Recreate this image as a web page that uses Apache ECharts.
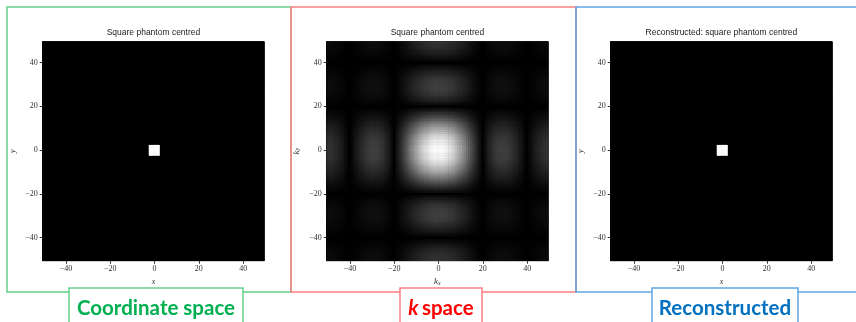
<!DOCTYPE html>
<html>
<head>
<meta charset="utf-8">
<script src="https://cdn.jsdelivr.net/npm/echarts@6/dist/echarts.min.js"></script>
<style>
  html, body { margin: 0; padding: 0; background: #fff; }
  #chart { width: 856px; height: 322px; }
</style>
</head>
<body>
<div id="chart"></div>
<script>
// pixel grid of every image: -50 .. 49 on both axes
const COORDS = Array.from({ length: 100 }, (_, i) => String(i - 50));
const TICKS = [-40, -20, 0, 20, 40];

// white square of the phantom (cell indices on x and y)
const SQUARE_X = [-2, -1, 0, 1, 2];
const SQUARE_Y = [-2, -1, 0, 1, 2];

// k-space brightness read along the centre row / column, k = -50 .. 49
const K_PROFILE = [
  0.20, 0.20, 0.19, 0.18, 0.16, 0.14, 0.12, 0.09, 0.06, 0.03,
  0.00, 0.03, 0.07, 0.10, 0.13, 0.16, 0.18, 0.21, 0.23, 0.24,
  0.25, 0.25, 0.25, 0.24, 0.22, 0.20, 0.17, 0.14, 0.10, 0.05,
  0.00, 0.06, 0.12, 0.18, 0.24, 0.31, 0.38, 0.45, 0.52, 0.58,
  0.65, 0.71, 0.76, 0.82, 0.86, 0.90, 0.94, 0.96, 0.98, 0.99,
  1.00,
  0.99, 0.98, 0.96, 0.94, 0.90, 0.86, 0.82, 0.76, 0.71, 0.65,
  0.58, 0.52, 0.45, 0.38, 0.31, 0.24, 0.18, 0.12, 0.06, 0.00,
  0.05, 0.10, 0.14, 0.17, 0.20, 0.22, 0.24, 0.25, 0.25, 0.25,
  0.24, 0.23, 0.21, 0.18, 0.16, 0.13, 0.10, 0.07, 0.03, 0.00,
  0.03, 0.06, 0.09, 0.12, 0.14, 0.16, 0.18, 0.19, 0.20
];

const TITLES = ["Square phantom centred", "Square phantom centred", "Reconstructed: square phantom centred"];

const phantomData = [];
const kspaceData = [];
COORDS.forEach((xs, i) => {
  COORDS.forEach((ys, j) => {
    const inside = SQUARE_X.includes(+xs) && SQUARE_Y.includes(+ys);
    phantomData.push([i, j, inside ? 1 : 0]);
    kspaceData.push([i, j, K_PROFILE[i] * K_PROFILE[j]]);
  });
});

const GRID_LEFT = [42.7, 326.7, 610.7];
const GRID_TOP = 41.7;
const GRID_W = 221.5;
const GRID_H = 219;

const serif = "'Liberation Serif', 'DejaVu Serif', serif";
const labelFont = "Lato, 'Open Sans', sans-serif";
const showTick = (idx, val) => TICKS.includes(Number(val));

const axisNameRich = {
  k: { fontFamily: serif, fontStyle: "italic", fontSize: 9, color: "#333", verticalAlign: "bottom" },
  s: { fontFamily: serif, fontStyle: "italic", fontSize: 6, color: "#333", verticalAlign: "bottom" },
};

function makeAxis(dim, gridIndex, name) {
  return {
    type: "category",
    gridIndex,
    data: COORDS,
    name,
    nameLocation: "middle",
    nameGap: dim === "x" ? 15 : 26,
    nameRotate: dim === "x" ? 0 : 90,
    nameTextStyle: {
      fontFamily: serif,
      fontStyle: "italic",
      fontSize: 8,
      color: "#333",
      rich: axisNameRich,
    },
    axisLine: { show: true, lineStyle: { color: "#000", width: 1 } },
    axisTick: { show: true, interval: showTick, alignWithLabel: true, length: 3, lineStyle: { color: "#333" } },
    axisLabel: {
      interval: showTick,
      margin: dim === "x" ? 4 : 5,
      fontFamily: serif,
      fontSize: 8,
      color: "#333",
      formatter: (v) => v.replace("-", "\u2212"),
    },
    splitLine: { show: false },
  };
}

// black behind the cells hides the hairline seams between them
const grids = GRID_LEFT.map((left) => ({
  left, top: GRID_TOP, width: GRID_W, height: GRID_H,
  show: true, borderColor: "#000", borderWidth: 1, backgroundColor: "#000",
}));

const xNames = ["x", "{k|k}{s|x}", "x"];
const yNames = ["y", "{k|k}{s|y}", "y"];

const seriesData = [phantomData, kspaceData, phantomData];

const chart = echarts.init(document.getElementById("chart"), null, { renderer: "canvas" });

chart.setOption({
  animation: false,
  backgroundColor: "#fff",
  title: TITLES.map((text, i) => ({
    text,
    left: GRID_LEFT[i] + GRID_W / 2,
    top: 28,
    textAlign: "center",
    padding: 0,
    textStyle: { fontFamily: "'Liberation Sans', Arial, sans-serif", fontSize: 8.5, fontWeight: "normal", color: "#222" },
  })),
  grid: grids,
  xAxis: xNames.map((n, i) => makeAxis("x", i, n)),
  yAxis: yNames.map((n, i) => makeAxis("y", i, n)),
  visualMap: seriesData.map((_, i) => ({
    type: "continuous",
    show: false,
    min: 0,
    max: 1,
    seriesIndex: i,
    inRange: { color: ["#000000", "#ffffff"] },
  })),
  series: seriesData.map((data, i) => ({
    type: "heatmap",
    xAxisIndex: i,
    yAxisIndex: i,
    data,
    progressive: 0,
    itemStyle: { borderWidth: 0 },
    emphasis: { disabled: true },
  })),
  graphic: [
    { type: "rect", shape: { x: 7, y: 7, width: 284, height: 285 }, style: { fill: "none", stroke: "#66cf8c", lineWidth: 1.5 }, z: 100 },
    { type: "rect", shape: { x: 291, y: 7, width: 285, height: 285 }, style: { fill: "none", stroke: "#ff7f80", lineWidth: 1.5 }, z: 100 },
    { type: "rect", shape: { x: 576, y: 7, width: 290, height: 285 }, style: { fill: "none", stroke: "#5ea7e2", lineWidth: 1.5 }, z: 100 },

    { type: "rect", shape: { x: 69, y: 288, width: 174, height: 40 }, style: { fill: "#fff", stroke: "#66cf8c", lineWidth: 1.5 }, z: 101 },
    { type: "text", x: 156, y: 308, z: 102,
      style: { text: "Coordinate space", align: "center", verticalAlign: "middle", fill: "#00b050",
        font: "bold 20.5px " + labelFont } },

    { type: "rect", shape: { x: 400, y: 288, width: 82, height: 40 }, style: { fill: "#fff", stroke: "#ff7f80", lineWidth: 1.5 }, z: 101 },
    { type: "text", x: 441, y: 308, z: 102,
      style: { text: "{i|k} {b|space}", align: "center", verticalAlign: "middle",
        rich: {
          i: { fill: "#ff0000", fontStyle: "italic", fontWeight: "bold", fontSize: 20.5, fontFamily: labelFont },
          b: { fill: "#ff0000", fontWeight: "bold", fontSize: 20.5, fontFamily: labelFont },
        } } },

    { type: "rect", shape: { x: 652, y: 288, width: 146, height: 40 }, style: { fill: "#fff", stroke: "#5ea7e2", lineWidth: 1.5 }, z: 101 },
    { type: "text", x: 725, y: 308, z: 102,
      style: { text: "Reconstructed", align: "center", verticalAlign: "middle", fill: "#0070c0",
        font: "bold 20.5px " + labelFont } },
  ],
});
</script>
</body>
</html>
